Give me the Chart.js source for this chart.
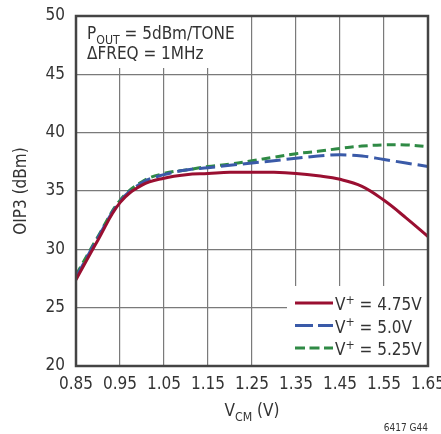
<!DOCTYPE html>
<html>
<head>
    <title>OIP3 vs VCM</title>
    <script src="https://cdn.jsdelivr.net/npm/chart.js"></script>
    <style>
        body { margin: 0; background: #fff; }
        #wrap { width: 441px; height: 434px; }
    </style>
</head>
<body>
    <div id="wrap"><canvas id="chart" width="441" height="434"></canvas></div>

    <script>
        const FONT = "'Liberation Sans Narrow', 'DejaVu Sans Condensed', sans-serif";

        const vcm = [0.85, 0.9, 0.95, 1.0, 1.05, 1.1, 1.15, 1.2, 1.25, 1.3, 1.35, 1.4, 1.45, 1.5, 1.55, 1.6, 1.65];
        const oip3_475 = [27.4, 30.8, 34.0, 35.5, 36.1, 36.4, 36.5, 36.6, 36.6, 36.6, 36.5, 36.3, 36.0, 35.4, 34.2, 32.7, 31.1];
        const oip3_50  = [27.6, 31.0, 34.1, 35.7, 36.4, 36.8, 37.0, 37.2, 37.4, 37.6, 37.8, 38.0, 38.1, 38.0, 37.7, 37.4, 37.1];
        const oip3_525 = [27.8, 31.1, 34.2, 35.8, 36.5, 36.8, 37.1, 37.3, 37.6, 37.9, 38.2, 38.4, 38.65, 38.85, 38.95, 38.95, 38.8];
        const xTicks = [0.85, 0.95, 1.05, 1.15, 1.25, 1.35, 1.45, 1.55, 1.65];
        const yTicks = [20, 25, 30, 35, 40, 45, 50];
        const seriesNames = ['4.75V', '5.0V', '5.25V'];

        const RED = '#9a0f31', BLUE = '#3a5aa8', GREEN = '#2f8a45';
        const dashes = [[], [16, 6], [9, 5]];

        const toPts = ys => vcm.map((x, i) => ({x: x, y: ys[i]}));

        // text with a sub/superscript part
        function drawParts(ctx, parts, x, y, size) {
            let cx = x;
            parts.forEach(p => {
                const s = p.sub || p.sup ? size * 0.72 : size;
                const dy = p.sub ? size * 0.28 : (p.sup ? -size * 0.38 : 0);
                ctx.font = s + 'px ' + FONT;
                ctx.fillText(p.t, cx, y + dy);
                cx += ctx.measureText(p.t).width;
            });
        }

        const overlay = {
            id: 'overlay',
            beforeDatasetsDraw(chart) {
                // white boxes that hide grid lines behind the note and legend
                const {ctx, chartArea: a} = chart;
                ctx.save();
                ctx.fillStyle = '#fff';
                ctx.fillRect(a.left, a.top, 161, 52);
                ctx.fillRect(a.right - 141, a.bottom - 80, 141, 80);
                ctx.restore();
            },
            afterDraw(chart) {
                const {ctx, chartArea: a} = chart;
                ctx.save();
                // plot frame
                ctx.strokeStyle = '#444';
                ctx.lineWidth = 2.5;
                ctx.strokeRect(a.left, a.top, a.right - a.left, a.bottom - a.top);

                ctx.fillStyle = '#333';
                ctx.textBaseline = 'alphabetic';

                drawParts(ctx, [{t: 'P'}, {t: 'OUT', sub: true}, {t: ' = 5dBm/TONE'}], a.left + 11, a.top + 23, 17);
                drawParts(ctx, [{t: '\u0394FREQ = 1MHz'}], a.left + 11, a.top + 43, 17);

                // legend
                const cols = [RED, BLUE, GREEN];
                seriesNames.forEach((n, i) => {
                    const y = a.bottom - 63 + i * 22.5;
                    ctx.save();
                    ctx.strokeStyle = cols[i];
                    ctx.lineWidth = 3;
                    ctx.setLineDash(i === 1 ? [18, 5] : (i === 2 ? [10, 4.5] : []));
                    ctx.beginPath();
                    ctx.moveTo(a.right - 133, y);
                    ctx.lineTo(a.right - 95, y);
                    ctx.stroke();
                    ctx.restore();
                    drawParts(ctx, [{t: 'V'}, {t: '+', sup: true}, {t: ' = ' + n}], a.right - 93, y + 7, 17);
                });

                // axis titles
                ctx.save();
                ctx.translate(26, (a.top + a.bottom) / 2);
                ctx.rotate(-Math.PI / 2);
                ctx.textAlign = 'center';
                ctx.font = '17px ' + FONT;
                ctx.fillText('OIP3 (dBm)', 0, 0);
                ctx.restore();

                ctx.font = '17px ' + FONT;
                const w = ctx.measureText('V').width + ctx.measureText(' (V)').width;
                ctx.font = (17 * 0.72) + 'px ' + FONT;
                const ws = ctx.measureText('CM').width;
                drawParts(ctx, [{t: 'V'}, {t: 'CM', sub: true}, {t: ' (V)'}], (a.left + a.right) / 2 - (w + ws) / 2, 416, 17);

                ctx.font = '10px ' + FONT;
                ctx.textAlign = 'right';
                ctx.fillText('6417 G44', a.right, 431);
                ctx.restore();
            }
        };

        new Chart(document.getElementById('chart'), {
            type: 'line',
            data: {
                datasets: [
                    {label: 'V+ = 4.75V', data: toPts(oip3_475), borderColor: RED, borderDash: dashes[0]},
                    {label: 'V+ = 5.0V', data: toPts(oip3_50), borderColor: BLUE, borderDash: dashes[1]},
                    {label: 'V+ = 5.25V', data: toPts(oip3_525), borderColor: GREEN, borderDash: dashes[2]}
                ].map(d => Object.assign(d, {borderWidth: 3, pointRadius: 0, tension: 0.4, fill: false}))
            },
            options: {
                responsive: false,
                animation: false,
                layout: {padding: {left: 0, right: 13, top: 16, bottom: 0}},
                plugins: {legend: {display: false}, tooltip: {enabled: false}},
                scales: {
                    x: {
                        type: 'linear',
                        min: 0.85,
                        max: 1.65,
                        afterBuildTicks: s => { s.ticks = xTicks.map(v => ({value: v})); },
                        afterFit: s => { s.height = 68; s.paddingLeft = 0; s.paddingRight = 0; },
                        grid: {color: '#7a7a7a', lineWidth: 1.2, drawTicks: false},
                        border: {display: false},
                        ticks: {
                            color: '#333', padding: 8, maxRotation: 0, autoSkip: false,
                            font: {family: FONT, size: 17},
                            callback: v => v.toFixed(2)
                        }
                    },
                    y: {
                        min: 20,
                        max: 50,
                        afterBuildTicks: s => { s.ticks = yTicks.map(v => ({value: v})); },
                        afterFit: s => { s.width = 76; s.paddingTop = 0; s.paddingBottom = 0; },
                        grid: {color: '#7a7a7a', lineWidth: 1.2, drawTicks: false},
                        border: {display: false},
                        ticks: {
                            color: '#333', padding: 11,
                            font: {family: FONT, size: 17}
                        }
                    }
                }
            },
            plugins: [overlay]
        });
    </script>
</body>
</html>
